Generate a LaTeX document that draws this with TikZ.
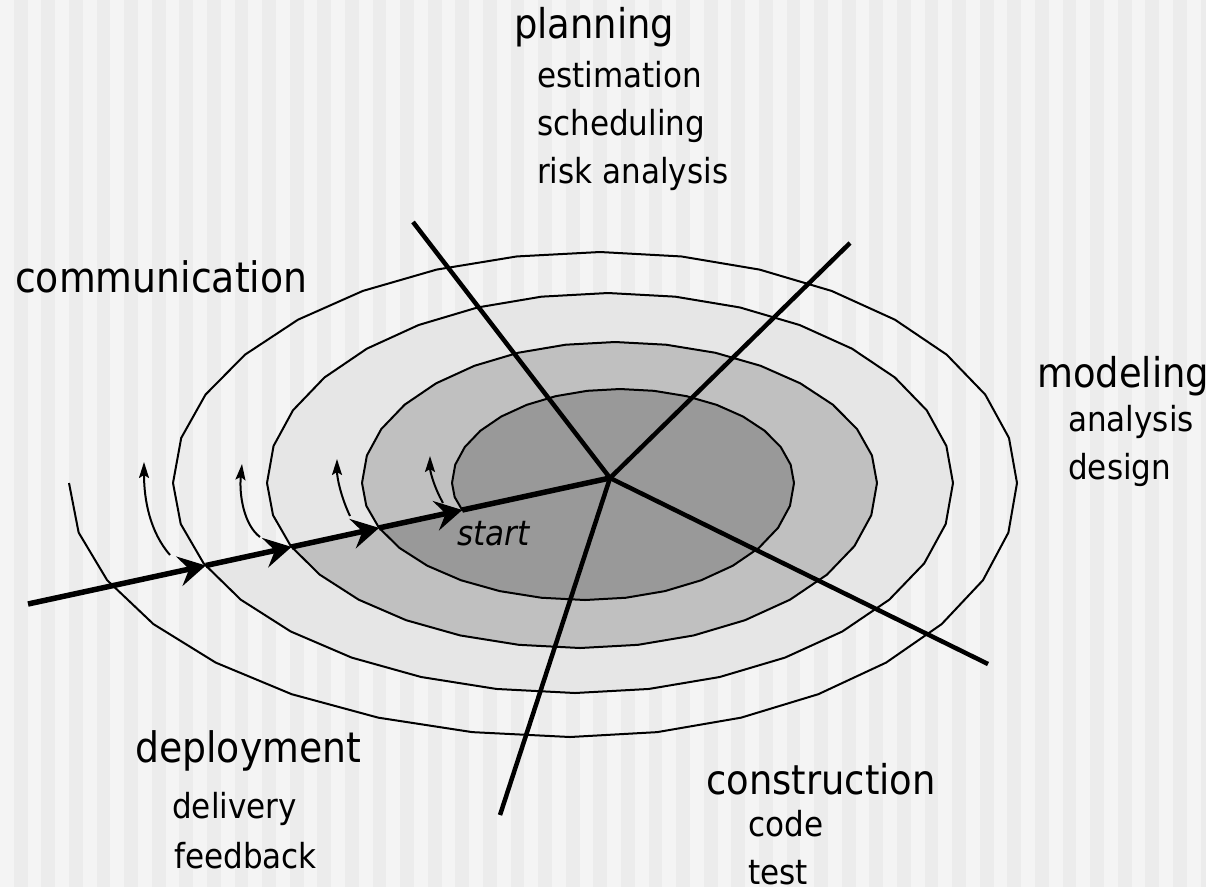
\documentclass[tikz,border=0pt]{standalone}
\usepackage{fontspec}
\setmainfont{DejaVu Sans}[FakeStretch=0.9]
\usetikzlibrary{arrows.meta}
\definecolor{stripeA}{HTML}{F4F4F4}
\definecolor{stripeB}{HTML}{ECECEC}
\definecolor{ringA}{HTML}{E6E6E6}
\definecolor{ringB}{HTML}{C0C0C0}
\definecolor{ringC}{HTML}{999999}
\newcommand{\qa}[6]{-- plot[domain=#1:#2,samples=#3] ({#4+#5*cos(\x)},{483+#6*sin(\x)})}
\begin{document}
\begin{tikzpicture}[x=1pt,y=-1pt,
  spiral/.style={line width=2pt, line join=round},
  radial/.style={line width=4.5pt},
  mainarrow/.style={line width=5.5pt},
  headbig/.style={-{Stealth[length=27pt,width=30pt,inset=10pt]}},
  smallarrow/.style={line width=2pt, -{Stealth[length=16pt,width=10pt,inset=3pt]}},
  lbl/.style={anchor=base west, inner sep=0pt, font=\fontsize{41}{41}\selectfont},
  sublbl/.style={anchor=base west, inner sep=0pt, font=\fontsize{34.5}{34.5}\selectfont}]
\useasboundingbox (0,0) rectangle (1206,887);
% background stripes
\fill[stripeA] (0,0) rectangle (1206,887);
\foreach \i in {0,...,43} \fill[stripeB] ({13.8+27.6*\i},0) rectangle ++(13.8,887);

% key points
\coordinate (ctr) at (610,478);
\coordinate (s0) at (28,604);
\coordinate (c1) at (205.8,565.5);
\coordinate (c2) at (291.6,546.9);
\coordinate (c3) at (379.1,527.9);
\coordinate (cEnd) at (462.3,510.0);
\coordinate (rUL) at (413,222);
\coordinate (rUR) at (850,243);
\coordinate (rLR) at (988,664);
\coordinate (rD) at (500,815);

% fills
\fill[ringA] (c1) \qa{146.25}{90}{6}{575}{402}{210} \qa{90}{0}{9}{575}{378}{210}
  \qa{0}{-90}{9}{608}{345}{190} \qa{-90}{-180}{9}{608}{341}{190}
  \qa{180}{157.5}{3}{580}{313}{165} -- (c2) -- cycle;
\fill[ringB] (c2) \qa{146.25}{90}{6}{580}{313}{165} \qa{90}{0}{9}{580}{297}{165}
  \qa{0}{-90}{9}{615}{262}{141} \qa{-90}{-180}{9}{615}{253}{141}
  \qa{180}{157.5}{3}{585}{223}{117} -- (c3) -- cycle;
\fill[ringC] (c3) \qa{146.25}{90}{6}{585}{223}{117} \qa{90}{0}{9}{585}{209}{117}
  \qa{0}{-90}{9}{620}{174}{94} \qa{-90}{-180}{9}{620}{168}{94}
  \qa{180}{157.5}{3}{590}{138}{72} -- (cEnd) -- cycle;

% spiral
\draw[spiral] (69,483)
  \qa{180}{90}{9}{570}{501}{254} \qa{90}{0}{9}{570}{447}{254}
  \qa{0}{-90}{9}{600}{417}{231} \qa{-90}{-180}{9}{600}{427}{231}
  \qa{180}{90}{9}{575}{402}{210} \qa{90}{0}{9}{575}{378}{210}
  \qa{0}{-90}{9}{608}{345}{190} \qa{-90}{-180}{9}{608}{341}{190}
  \qa{180}{90}{9}{580}{313}{165} \qa{90}{0}{9}{580}{297}{165}
  \qa{0}{-90}{9}{615}{262}{141} \qa{-90}{-180}{9}{615}{253}{141}
  \qa{180}{90}{9}{585}{223}{117} \qa{90}{0}{9}{585}{209}{117}
  \qa{0}{-90}{9}{620}{174}{94} \qa{-90}{-180}{9}{620}{168}{94}
  \qa{180}{157.5}{3}{590}{138}{72} -- (cEnd);

% radial lines
\draw[radial] (ctr) -- (rUL);
\draw[radial] (ctr) -- (rUR);
\draw[radial] (ctr) -- (rLR);
\draw[radial] (ctr) -- (rD);

% main arrow
\draw[mainarrow, headbig] (s0) -- (c1);
\draw[mainarrow, headbig] (c1) -- (c2);
\draw[mainarrow, headbig] (c2) -- (c3);
\draw[mainarrow, headbig] (c3) -- (cEnd);
\draw[mainarrow] (cEnd) -- (ctr);

% small curved arrows
\coordinate (a1s) at (170,555); \coordinate (a1e) at (144,462);
\coordinate (a2s) at (260,537); \coordinate (a2e) at (242,464);
\coordinate (a3s) at (350,516); \coordinate (a3e) at (337,459);
\coordinate (a4s) at (443,503); \coordinate (a4e) at (430,456);
\draw[smallarrow] (a1s) .. controls (150,532) and (144,500) .. (a1e);
\draw[smallarrow] (a2s) .. controls (244,525) and (239,495) .. (a2e);
\draw[smallarrow] (a3s) .. controls (341,497) and (337,478) .. (a3e);
\draw[smallarrow] (a4s) .. controls (433,485) and (430,470) .. (a4e);

% labels
\node[lbl] (planning) at (514,38) {planning};
\node[sublbl] (estimation) at (537,87) {estimation};
\node[sublbl] (scheduling) at (537,135) {scheduling};
\node[sublbl] (risk) at (537,183) {risk analysis};
\node[lbl, font=\fontsize{42}{42}\selectfont] (communication) at (15,292) {communication};
\node[lbl] (modeling) at (1037,387) {modeling};
\node[sublbl] (analysis) at (1068,431) {analysis};
\node[sublbl] (design) at (1068,479) {design};
\node[lbl, font=\fontsize{42}{42}\selectfont] (deployment) at (135,762) {deployment};
\node[sublbl] (delivery) at (172,818) {delivery};
\node[sublbl] (feedback) at (174,868) {feedback};
\node[lbl] (construction) at (706,794) {construction};
\node[sublbl] (code) at (748,836) {code};
\node[sublbl] (test) at (748,884) {test};
\node[sublbl, font=\fontsize{34.5}{34.5}\selectfont\itshape] (start) at (457,545) {start};
\end{tikzpicture}
\end{document}
